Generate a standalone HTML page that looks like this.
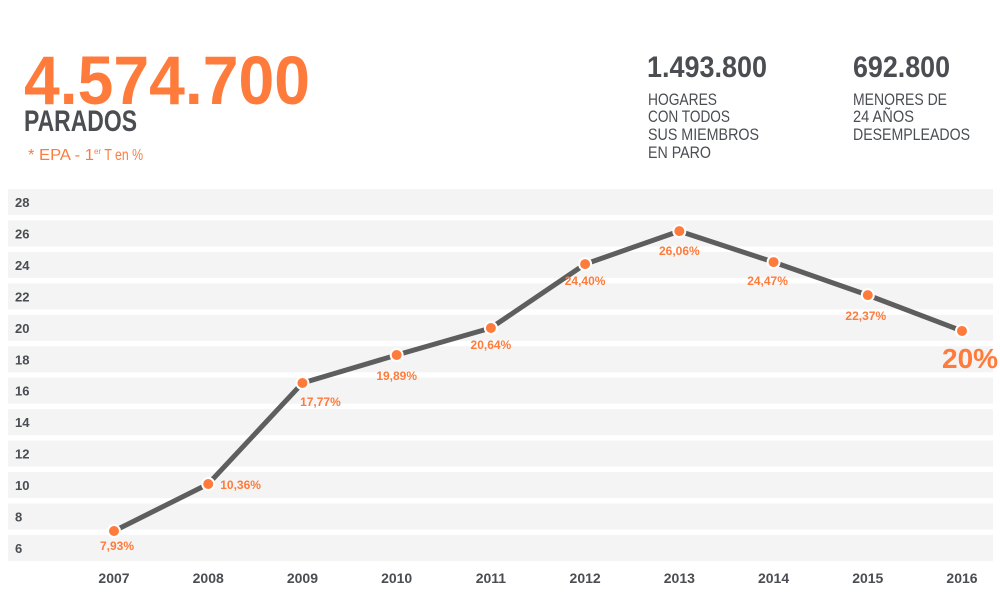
<!DOCTYPE html>
<html><head><meta charset="utf-8"><style>
html,body{margin:0;padding:0;background:#fff;width:1000px;height:600px;overflow:hidden}
svg{display:block;font-family:"Liberation Sans",sans-serif}
</style></head><body>
<svg id="chart" width="1000" height="600" viewBox="0 0 1000 600">
<g>
<text x="24" y="104" font-size="69" font-weight="bold" fill="#ff7b3b" textLength="286" lengthAdjust="spacingAndGlyphs">4.574.700</text>
<text x="24" y="131" font-size="30" font-weight="bold" fill="#4a4d52" textLength="113" lengthAdjust="spacingAndGlyphs">PARADOS</text>
<text x="28" y="160" font-size="16" fill="#ff7b3b"><tspan textLength="66" lengthAdjust="spacingAndGlyphs">* EPA - 1</tspan><tspan font-size="8" dy="-6">er</tspan><tspan dy="6" textLength="42" lengthAdjust="spacingAndGlyphs"> T en %</tspan></text>
<text x="647" y="77" font-size="30" font-weight="bold" fill="#4a4d52" textLength="120" lengthAdjust="spacingAndGlyphs">1.493.800</text>
<g font-size="17" fill="#4a4d52">
<text x="648" y="105" textLength="69" lengthAdjust="spacingAndGlyphs">HOGARES</text>
<text x="648" y="122" textLength="82" lengthAdjust="spacingAndGlyphs">CON TODOS</text>
<text x="648" y="140" textLength="111" lengthAdjust="spacingAndGlyphs">SUS MIEMBROS</text>
<text x="648" y="158" textLength="63" lengthAdjust="spacingAndGlyphs">EN PARO</text>
</g>
<text x="853" y="77" font-size="30" font-weight="bold" fill="#4a4d52" textLength="97" lengthAdjust="spacingAndGlyphs">692.800</text>
<g font-size="17" fill="#4a4d52">
<text x="853" y="105" textLength="94" lengthAdjust="spacingAndGlyphs">MENORES DE</text>
<text x="853" y="122" textLength="61" lengthAdjust="spacingAndGlyphs">24 AÑOS</text>
<text x="853" y="140" textLength="117" lengthAdjust="spacingAndGlyphs">DESEMPLEADOS</text>
</g>
</g>
<g id="bands"></g><g id="xlabels"></g><g id="line"></g><g id="points"></g>
</svg>
<script>
const years=["2007","2008","2009","2010","2011","2012","2013","2014","2015","2016"];
const values=[7.08,10.07,16.49,18.27,19.99,24.05,26.15,24.18,22.08,19.8];
const valueLabels=["7,93%","10,36%","17,77%","19,89%","20,64%","24,40%","26,06%","24,47%","22,37%","20%"];
const yTicks=[6,8,10,12,14,16,18,20,22,24,26,28];
const NS="http://www.w3.org/2000/svg";
const y=v=>548-(v-6)*(346/22);
const x=i=>114+i*(848/9);
function mk(t,a,p){const e=document.createElementNS(NS,t);for(const k in a)e.setAttribute(k,a[k]);p.appendChild(e);return e;}
const bands=document.getElementById('bands');
yTicks.forEach(t=>{
 const r=mk('rect',{x:8,y:y(t)-13,width:985,height:26,fill:'#f4f4f4'},bands);
 
 
 const l=mk('text',{x:15,y:y(t)+5,'font-size':13,'font-weight':'bold',fill:'#4a4d52'},bands);
 l.textContent=t;
 
 
});
const xl=document.getElementById('xlabels');
years.forEach((yr,i)=>{
 const l=mk('text',{x:x(i),y:583,'font-size':14,'font-weight':'bold',fill:'#4a4d52','text-anchor':'middle'},xl);
 l.textContent=yr;
 
 
});
const pl=mk('polyline',{points:values.map((v,i)=>x(i)+','+y(v)).join(' '),fill:'none',stroke:'#5e5e5e','stroke-width':5,'stroke-linejoin':'round'},document.getElementById('line'));


const pts=document.getElementById('points');
const off=[[3,19,'middle'],[12,5,'start'],[18,23,'middle'],[0,25,'middle'],[0,21,'middle'],[0,21,'middle'],[0,24,'middle'],[-6,23,'middle'],[-2,25,'middle'],[-20,37,'start']];
values.forEach((v,i)=>{
 const c=mk('circle',{cx:x(i),cy:y(v),r:6,fill:'#ff7b3b',stroke:'#fff','stroke-width':2},pts);
 
 
 const big=i===values.length-1;
 const t=mk('text',{x:x(i)+off[i][0],y:y(v)+off[i][1],'font-size':big?28:12,'font-weight':'bold',fill:'#ff7b3b','text-anchor':off[i][2]},pts);
 t.textContent=valueLabels[i];
 
 
});
</script>
</body></html>
